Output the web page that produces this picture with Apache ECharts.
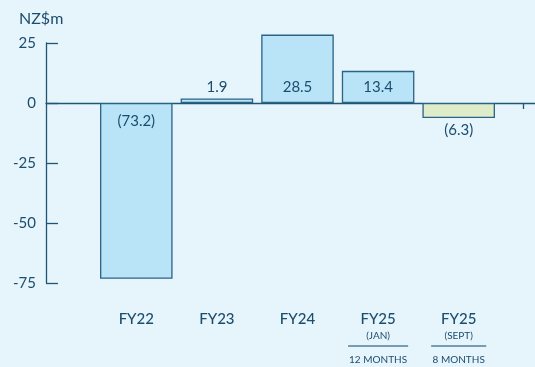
<!DOCTYPE html>
<html><head><meta charset="utf-8">
<script src="https://cdn.jsdelivr.net/npm/echarts@6/dist/echarts.min.js"></script>
<style>html,body{margin:0;padding:0;background:#e6f4fc;}#c{width:535px;height:367px;}</style>
</head><body><div id="c"></div>
<script>
const categories = ['FY22', 'FY23', 'FY24', 'FY25', 'FY25'];
const subLabels = ['', '', '', '(JAN)', '(SEPT)'];
const periodLabels = ['', '', '', '12 MONTHS', '8 MONTHS'];
const values = [-73.2, 1.9, 28.5, 13.4, -6.3];
const barColors = ['#b9e4f8', '#b9e4f8', '#b9e4f8', '#b9e4f8', '#dfecca'];
const yTicks = [-75, -50, -25, 0, 25];

const TXT = '#1b4d6d';
const LINE = '#1f5676';
const FONT = 'Lato';

const chart = echarts.init(document.getElementById('c'), null, {renderer: 'canvas'});
const data = values.map((v, i) => ({
  value: v,
  itemStyle: {color: barColors[i]},
  label: v >= 0 ? {position: 'insideBottom', distance: 8} : (v < -20 ? {position: 'insideTop', distance: 11} : {position: 'bottom', distance: 5})
}));

chart.setOption({
  backgroundColor: '#e6f4fc',
  animation: false,
  title: {text: 'NZ$m', left: 14, top: 6, textStyle: {fontFamily: FONT, fontSize: 16, fontWeight: 'normal', color: TXT}},
  grid: [
    {left: 96, right: 36, top: 31, bottom: 84, containLabel: false},
    {left: 46, right: 0, top: 43, bottom: 84, containLabel: false}
  ],
  xAxis: [
    {type: 'category', gridIndex: 0, data: categories,
     axisLine: {show: false, onZero: false}, axisTick: {show: false},
     axisLabel: {margin: 28, interval: 0,
       formatter: function (val, idx) {
         let s = '{main|' + val + '}';
         if (subLabels[idx]) {
           s += '\n{sub|' + subLabels[idx] + '}\n{hr' + idx + '|}\n{per|' + periodLabels[idx] + '}';
         }
         return s;
       },
       rich: {
         main: {fontFamily: FONT, fontSize: 15, fontWeight: 500, color: TXT, lineHeight: 16, align: 'center'},
         sub: {fontFamily: FONT, fontSize: 10, color: TXT, lineHeight: 18, align: 'center'},
         hr3: {width: 60, height: 0, borderWidth: 0.8, borderColor: '#3a6d8c', align: 'center', lineHeight: 2},
         hr4: {width: 55, height: 0, borderWidth: 0.8, borderColor: '#3a6d8c', align: 'center', lineHeight: 2},
         per: {fontFamily: FONT, fontSize: 10, color: TXT, lineHeight: 26, align: 'center'}
       }
     }},
    {type: 'value', gridIndex: 1, min: 0, max: 1,
     axisLine: {show: true, onZero: true, lineStyle: {color: LINE, width: 1.3}},
     axisTick: {show: true, length: 6, customValues: [0.975], lineStyle: {color: LINE, width: 1.3}},
     axisLabel: {show: false}, splitLine: {show: false}}
  ],
  yAxis: [
    {type: 'value', gridIndex: 0, min: -75, max: 30, show: false},
    {type: 'value', gridIndex: 1, min: -75, max: 25, interval: 25,
     axisLine: {show: true, lineStyle: {color: LINE, width: 1.3}},
     axisTick: {show: true, inside: true, length: 12, lineStyle: {color: LINE, width: 1.3}},
     axisLabel: {margin: 10, fontFamily: FONT, fontSize: 15, color: TXT,
       formatter: v => yTicks.includes(v) ? String(v) : ''},
     splitLine: {show: false}}
  ],
  series: [{
    type: 'bar', xAxisIndex: 0, yAxisIndex: 0, data: data, barWidth: '90%',
    itemStyle: {borderColor: '#2a6386', borderWidth: 1.3},
    label: {show: true, fontFamily: FONT, fontSize: 15, color: TXT,
      formatter: p => p.value < 0 ? '(' + Math.abs(p.value).toFixed(1) + ')' : p.value.toFixed(1)}
  }]
});
</script></body></html>
